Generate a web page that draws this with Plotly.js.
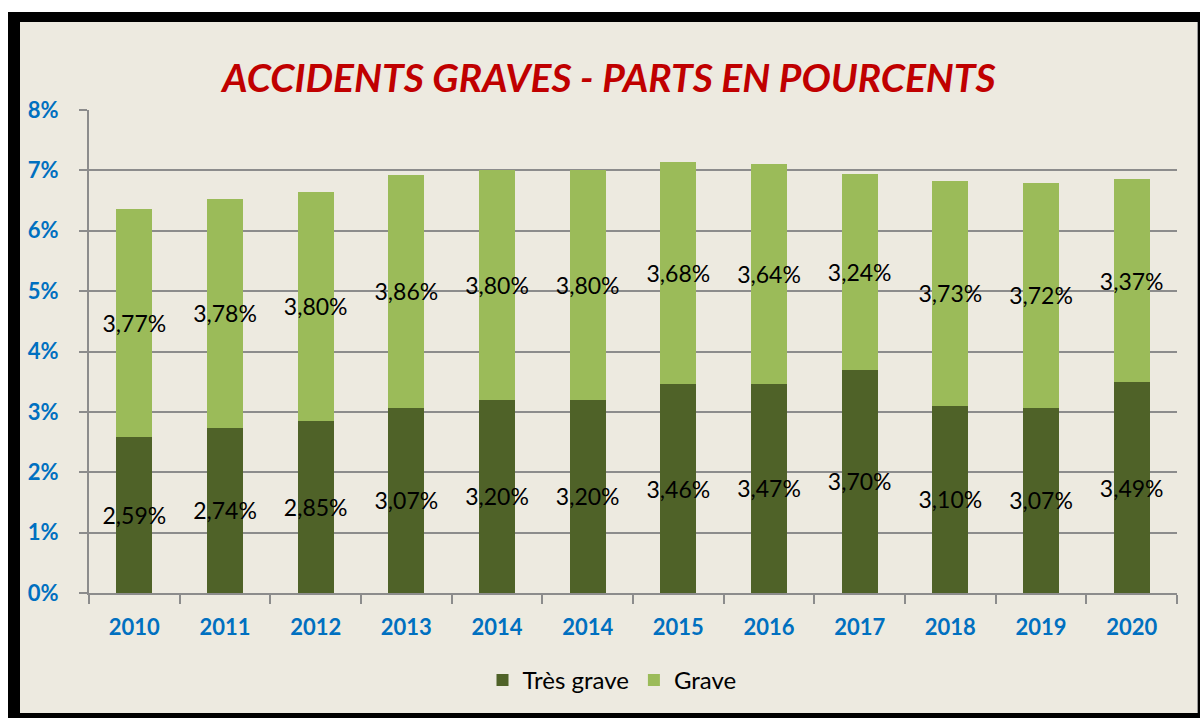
<!DOCTYPE html>
<html>
<head>
<meta charset="utf-8">
<script src="https://cdn.plot.ly/plotly-3.0.1.min.js"></script>
<style>
  body { margin:0; background:#ffffff; }
  #frame { position:absolute; left:8px; top:12px; width:1192px; height:706px; background:#000; }
  #inner { position:absolute; left:20px; top:22px; width:1177px; height:691px; background:#EDEAE0; border-right:1px solid #999; }
  #chart { position:absolute; left:0; top:0; width:1200px; height:718px; }
</style>
</head>
<body>
<div id="frame"></div>
<div id="inner"></div>
<div id="chart"></div>
<script>
const years = ["2010","2011","2012","2013","2014","2014","2015","2016","2017","2018","2019","2020"];
const tresGrave = [2.59, 2.74, 2.85, 3.07, 3.20, 3.20, 3.46, 3.47, 3.70, 3.10, 3.07, 3.49];
const grave = [3.77, 3.78, 3.80, 3.86, 3.80, 3.80, 3.68, 3.64, 3.24, 3.73, 3.72, 3.37];
const yTicks = [0,1,2,3,4,5,6,7,8];

const idx = years.map((_, i) => i);
const labelFont = {family: "Lato, 'Open Sans', sans-serif", size: 23, color: "#000000"};

const traces = [
  {type:'bar', name:'Très grave', x: idx, y: tresGrave,
   marker:{color:'#4F6228'},
   text: tresGrave, texttemplate:'%{y:.2f}%', textposition:'inside', insidetextanchor:'middle',
   textangle:0, constraintext:'none', textfont: labelFont, insidetextfont: labelFont, hoverinfo:'skip'},
  {type:'bar', name:'Grave', x: idx, y: grave,
   marker:{color:'#9BBB59'},
   text: grave, texttemplate:'%{y:.2f}%', textposition:'inside', insidetextanchor:'middle',
   textangle:0, constraintext:'none', textfont: labelFont, insidetextfont: labelFont, hoverinfo:'skip'}
];

const layout = {
  width:1200, height:718,
  paper_bgcolor:'rgba(0,0,0,0)', plot_bgcolor:'rgba(0,0,0,0)',
  separators:', ',
  barmode:'stack', bargap:0.6,
  margin:{l:89, r:23, t:110, b:125, autoexpand:false},
  title:{text:'<b><i>ACCIDENTS GRAVES - PARTS EN POURCENTS</i></b>',
         font:{family:"Lato, 'Open Sans', sans-serif", size:39, color:'#C00000'},
         x:609/1200, xanchor:'center', xref:'container', y:1-78/718, yanchor:'middle'},
  xaxis:{range:[-0.5, 11.5], tickmode:'array', tickvals: idx, ticktext: years,
         ticks:'', showgrid:false, zeroline:false, tickangle:0, automargin:false,
         showline:true, linecolor:'#8C8C8C', linewidth:2,
         tickfont:{family:"Lato, 'Open Sans', sans-serif", size:22, color:'#0070C0', weight:'bold'},
         ticklabelstandoff:14,
         minor:{tick0:-0.5, dtick:1, ticks:'outside', ticklen:9, tickwidth:2, tickcolor:'#8C8C8C', showgrid:false}},
  yaxis:{range:[0,8], tickmode:'array', tickvals:yTicks, ticktext: yTicks.map(v => v + '%'),
         ticks:'outside', ticklen:8, tickwidth:2, tickcolor:'#8C8C8C', automargin:false,
         showgrid:true, gridcolor:'#8C8C8C', gridwidth:2, zeroline:false,
         showline:true, linecolor:'#8C8C8C', linewidth:2,
         tickfont:{family:"Lato, 'Open Sans', sans-serif", size:22, color:'#0070C0', weight:'bold'},
         ticklabelstandoff:16},
  legend:{orientation:'h', x:(612-89)/1088, xanchor:'center', y:-(658-593)/483, yanchor:'top',
          font:{family:"Lato, 'Open Sans', sans-serif", size:24, color:'#000000'},
          bgcolor:'rgba(0,0,0,0)', traceorder:'normal'},
  showlegend:true
};

Plotly.newPlot('chart', traces, layout, {displayModeBar:false, staticPlot:true});
</script>
</body>
</html>
